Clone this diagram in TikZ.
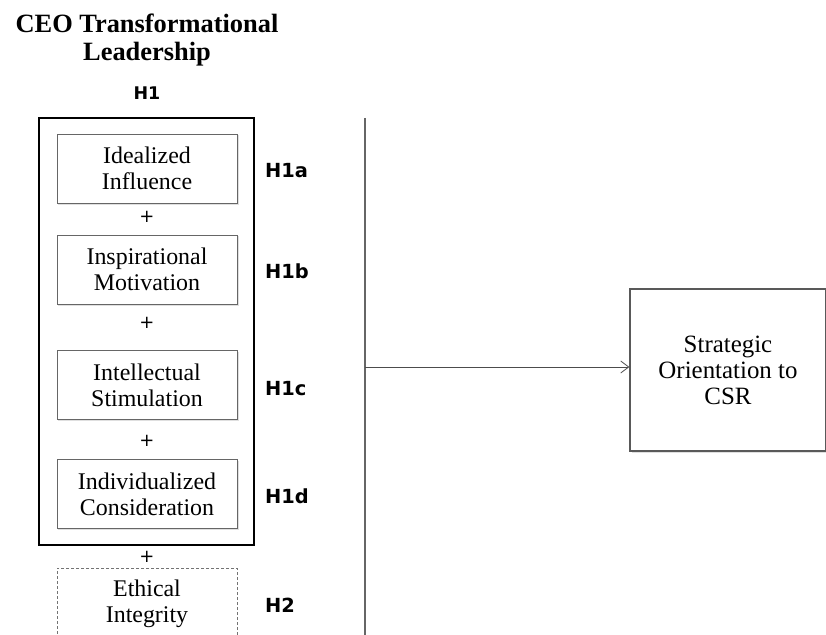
\documentclass[tikz,border=0pt]{standalone}
\usepackage{fontspec}
\setmainfont{Liberation Serif}
\newfontfamily\hypfont{DejaVu Sans}
\usetikzlibrary{shadows,arrows.meta}
\begin{document}
\begin{tikzpicture}[x=1bp,y=-1bp,
  dimbox/.style={draw=black!60,line width=0.8bp,fill=white,minimum width=180bp,minimum height=69bp,
    align=center,font=\fontsize{24}{26}\selectfont,inner sep=0pt,
    drop shadow={shadow xshift=1.5bp,shadow yshift=-1.5bp,opacity=0.25}},
  hyp/.style={anchor=base west,font=\hypfont\bfseries\fontsize{19.5}{22}\selectfont,inner sep=0pt},
  plus/.style={font=\hypfont\fontsize{18}{18}\selectfont,inner sep=0pt}]
\useasboundingbox (0,0) rectangle (826,635);
\clip (0,0) rectangle (826,635);
% heading
\node[font=\bfseries\fontsize{26.5}{27.5}\selectfont,align=center,inner sep=0pt] (title) at (147,40) {CEO Transformational\\Leadership};
\node[font=\hypfont\bfseries\fontsize{17.5}{20}\selectfont,anchor=base,inner sep=0pt] (h1) at (147,100) {H1};
% transformational leadership block
\node[draw,line width=2bp,minimum width=215bp,minimum height=427bp,inner sep=0pt] (tl) at (146.5,331.5) {};
\node[dimbox] (ii) at (147,168.5) {Idealized\\Influence};
\node[dimbox] (im) at (147,269.5) {Inspirational\\Motivation};
\node[dimbox] (is) at (147,385) {Intellectual\\Stimulation};
\node[dimbox] (ic) at (147,494) {Individualized\\Consideration};
\node[plus] (p1) at (147,217) {+};
\node[plus] (p2) at (147,323) {+};
\node[plus] (p3) at (147,441) {+};
\node[plus] (p4) at (147,557) {+};
\node[draw=black!55,line width=0.8bp,dash pattern=on 3bp off 2bp,minimum width=180bp,minimum height=72bp,
  align=center,font=\fontsize{24}{26}\selectfont,inner sep=0pt] (ei) at (147,604) {Ethical\\Integrity};
\node[hyp] (h1a) at (265,178) {H1a};
\node[hyp] (h1b) at (265,278) {H1b};
\node[hyp] (h1c) at (265,395) {H1c};
\node[hyp] (h1d) at (265,503) {H1d};
\node[hyp] (h2) at (265,612) {H2};
% outcome
\node[draw=black!65,line width=1.2bp,fill=white,minimum width=196bp,minimum height=162bp,align=center,
  font=\fontsize{25}{26}\selectfont,inner sep=0pt,
  drop shadow={shadow xshift=1.5bp,shadow yshift=-1.5bp,opacity=0.25}] (so) at (728,370) {Strategic\\Orientation to\\CSR};
\coordinate (vtop) at (365,118);
\coordinate (vbot) at (365,635);
\coordinate (fork) at (365,367);
\draw[black!60,line width=1.5bp] (vtop) -- (vbot);
\draw[-{Straight Barb[length=8bp,width=12bp]},black!70,line width=0.8bp] (fork) -- (fork -| so.west);
\end{tikzpicture}
\end{document}
